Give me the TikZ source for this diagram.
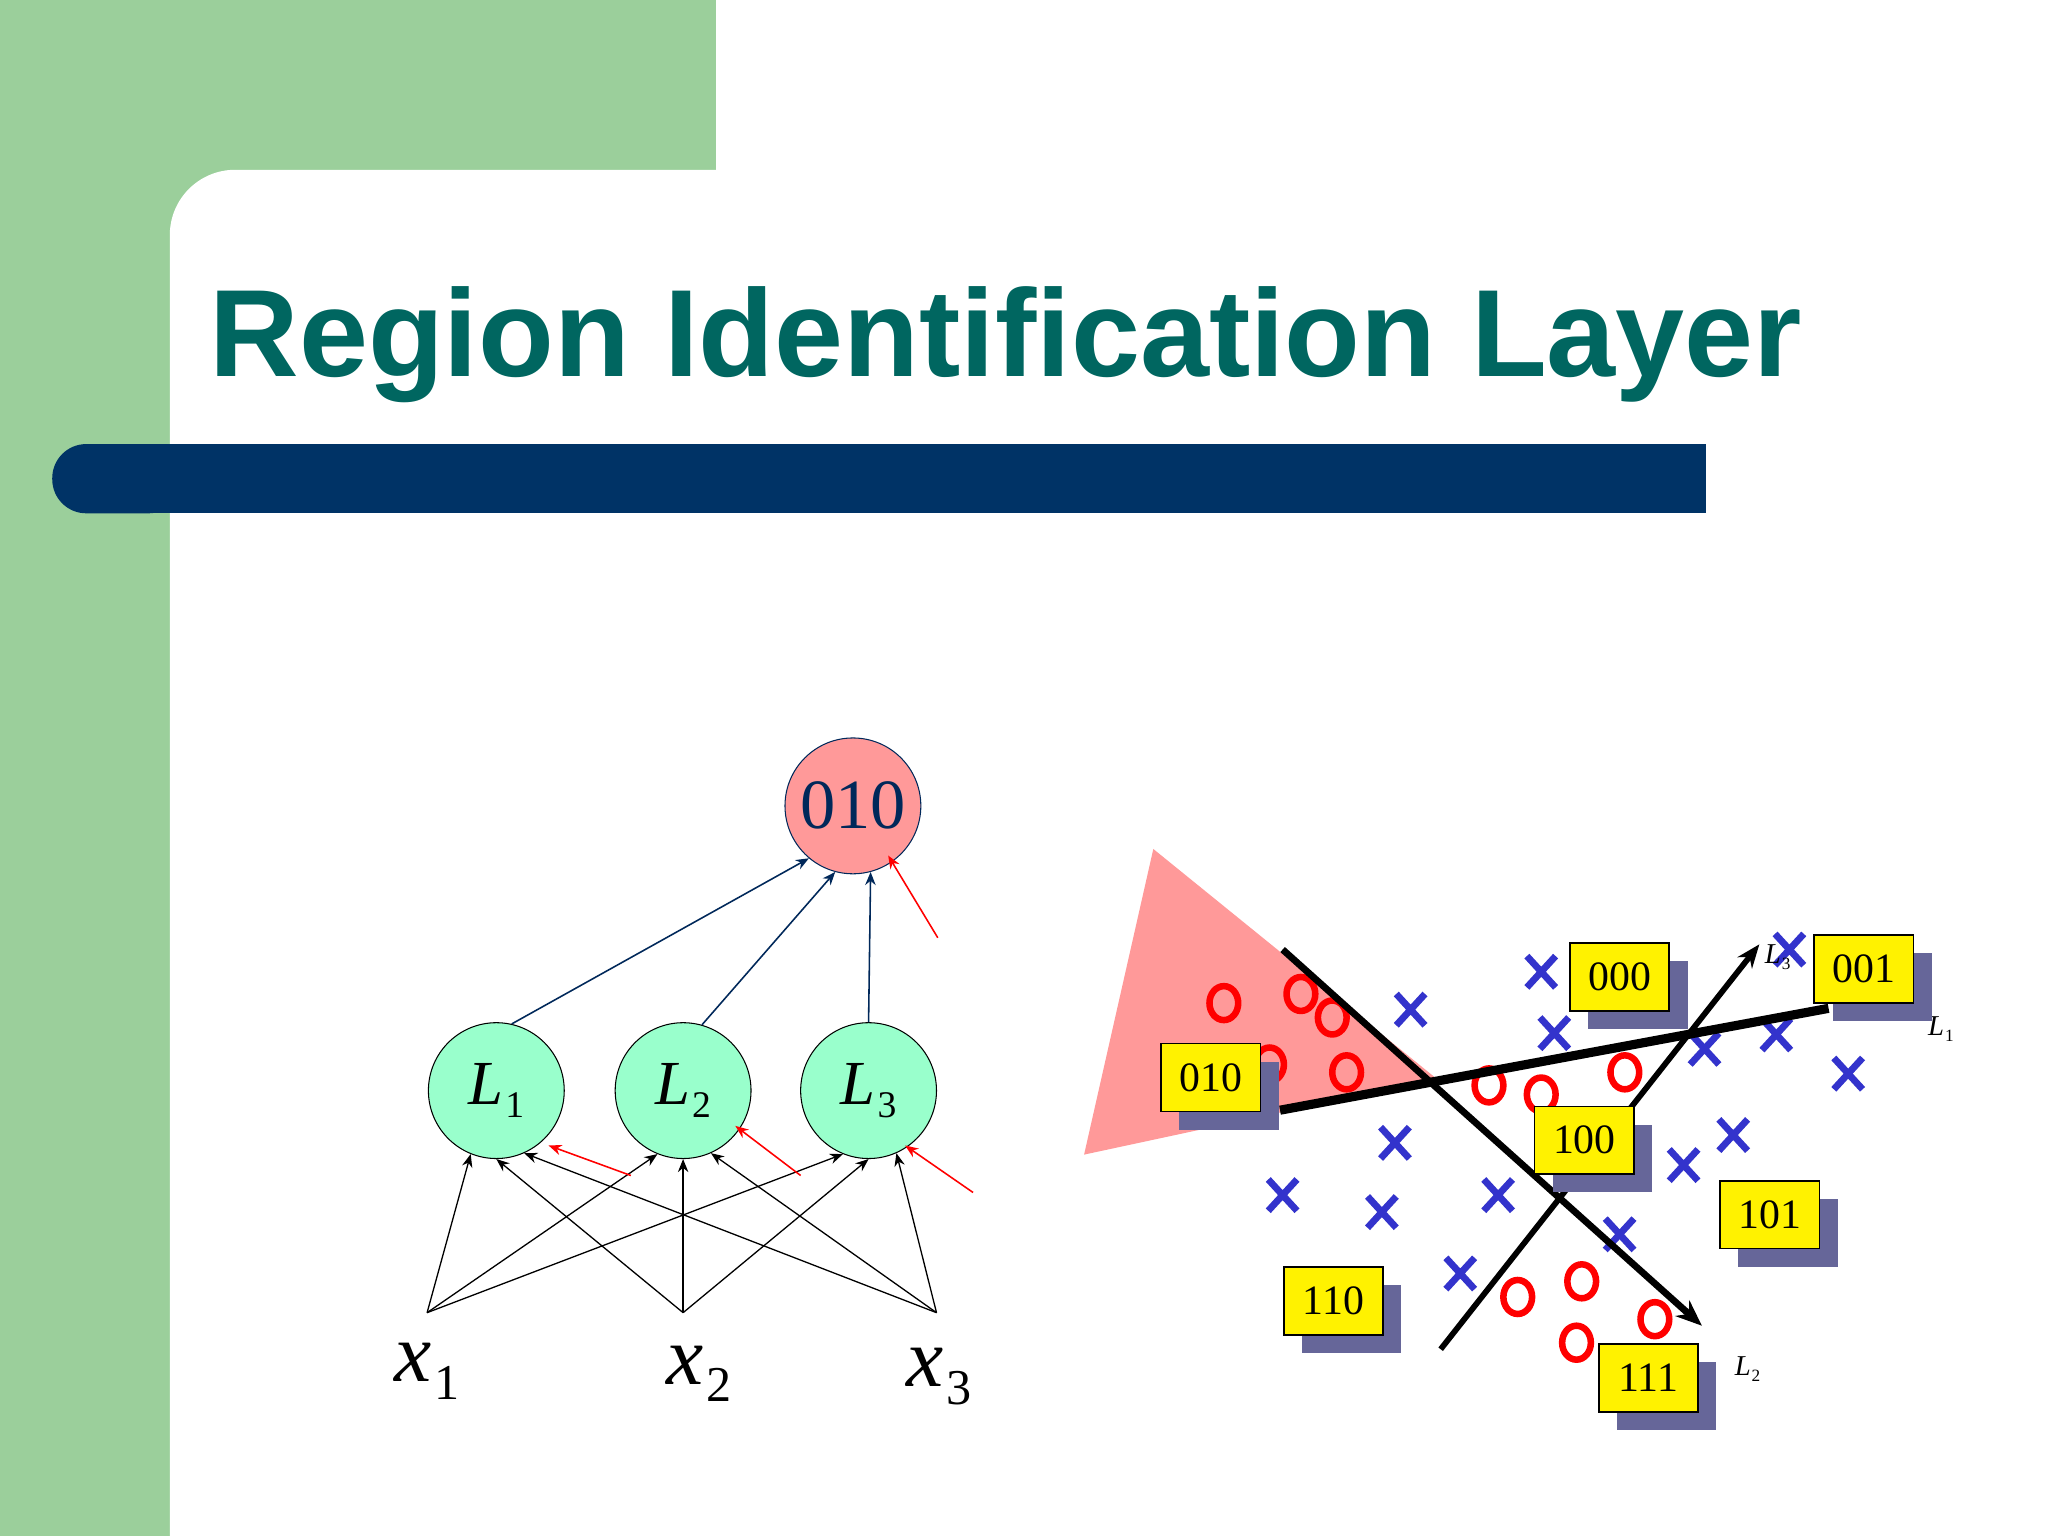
\documentclass[tikz,border=0pt]{standalone}
\usepackage{fontspec}
\setmainfont{Liberation Serif}
\newfontfamily\titlefont{Liberation Sans}
\usetikzlibrary{arrows.meta}
\definecolor{bggreen}{RGB}{155,207,155}
\definecolor{barblue}{RGB}{0,51,102}
\definecolor{titleteal}{RGB}{0,102,96}
\definecolor{pinkfill}{RGB}{255,153,153}
\definecolor{mintfill}{RGB}{153,255,204}
\definecolor{navy}{RGB}{0,40,90}
\definecolor{shadowc}{RGB}{102,102,153}
\definecolor{xblue}{RGB}{51,51,204}
\newcommand{\isub}[2]{\textit{#1}\kern0.03em\raisebox{-0.45ex}{\fontsize{0.6\dimexpr\fontdimen6\font}{1}\selectfont #2}}
\begin{document}
\begin{tikzpicture}[x=0.5pt,y=-0.5pt,
  neuron/.style={circle,draw=black,fill=mintfill,minimum size=52pt,inner sep=0pt,font=\fontsize{24}{24}\selectfont},
  outn/.style={circle,draw=navy,fill=pinkfill,minimum size=52pt,inner sep=0pt,text=navy,font=\fontsize{27}{27}\selectfont},
  inarrow/.style={-{Stealth[length=5pt,width=4pt]},black,line width=0.5pt},
  uparrow/.style={-{Stealth[length=5pt,width=4pt]},navy,line width=0.6pt},
  redarrow/.style={-{Stealth[length=5pt,width=4pt]},red,line width=0.6pt},
  region/.style={draw=black,fill=yellow,minimum width=38pt,minimum height=26pt,inner sep=0pt,line width=0.6pt,font=\fontsize{16}{16}\selectfont},
  ring/.style={draw=red,line width=2.5pt},
  crossm/.style={draw=xblue,line width=2.6pt},
  bigline/.style={line width=2.6pt},
  small/.style={font=\fontsize{11}{11}\selectfont},
  inlabel/.style={font=\fontsize{32}{32}\selectfont,inner sep=1pt}
]
\useasboundingbox (0,0) rectangle (1568,1176);
\fill[bggreen] (0,0) rectangle (548,130);
\fill[bggreen] (0,0) rectangle (200,200);
\fill[bggreen] (0,0) rectangle (130,1176);
\fill[white,rounded corners=25pt] (130,130) rectangle (1600,1240);
\fill[barblue,rounded corners=13pt] (40,340) rectangle (140,393);
\fill[barblue] (100,340) rectangle (1306,393);
\node[anchor=base west,inner sep=0pt,text=titleteal,font=\titlefont\bfseries\fontsize{47.5}{47.5}\selectfont] (title) at (160,288) {Region Identification Layer};
% network
\node[outn] (o) at (653,617) {010};
\node[neuron] (l1) at (380,835) {\isub{L}{1}};
\node[neuron] (l2) at (523,835) {\isub{L}{2}};
\node[neuron] (l3) at (665,835) {\isub{L}{3}};
\coordinate (i1) at (327,1005);
\coordinate (i2) at (523,1005);
\coordinate (i3) at (717,1005);
\node[inlabel] (x1) at (327,1050) {\isub{x}{1}};
\node[inlabel] (x2) at (535,1052) {\isub{x}{2}};
\node[inlabel] (x3) at (719,1054) {\isub{x}{3}};
\foreach \l in {l1,l2,l3}{
  \draw[inarrow] (i1) -- (\l.-112);
  \draw[inarrow] (i2) -- (\l.-90);
  \draw[inarrow] (i3) -- (\l.-66);
}
\draw[uparrow] (l1.77) -- (o.-130);
\draw[uparrow] (l2.74) -- (o.-105);
\draw[uparrow] (l3.north) -- (o.-75);
\coordinate (r1) at (483,900);
\coordinate (r2) at (613,900);
\coordinate (r3) at (745,913);
\coordinate (r4) at (718,718);
\draw[redarrow] (r1) -- (420,877);
\draw[redarrow] (r2) -- (563,862);
\draw[redarrow] (r3) -- (693,877);
\draw[redarrow] (r4) -- (680,655);
% right diagram
\fill[pinkfill] (883,650) -- (830,884) -- (1100,826) -- cycle;
\foreach \p in {(937,768),(996,761),(1020,779),(972,815),(1031,821),(1140,831),(1180,838),(1244,821),(1162,993),(1211,981),(1267,1010),(1207,1028)}
  \draw[ring] \p ellipse (5.5pt and 6.5pt);
\foreach \a/\b in {1180/744,1080/773,1190/791,1370/727,1305/803,1360/792,1415/822,1068/875,982/915,1058/928,1147/915,1327/869,1289/892,1240/945,1118/975}
  \draw[crossm] (\a-11,\b-12) -- (\a+11,\b+12) (\a-11,\b+12) -- (\a+11,\b-12);
\coordinate (a2s) at (982,727);
\coordinate (a2e) at (1303,1015);
\coordinate (a1s) at (980,850);
\coordinate (a1e) at (1400,772);
\coordinate (a3s) at (1103,1033);
\coordinate (a3e) at (1347,723);
\draw[bigline,-{Stealth[length=10pt,width=8pt]}] (a2s) -- (a2e);
\draw[line width=3.5pt] (a1s) -- (a1e);
\draw[line width=2.2pt,-{Stealth[length=9pt,width=7pt]}] (a3s) -- (a3e);
\node[small] (lb3) at (1361,733) {\isub{L}{3}};
\node[small] (lb1) at (1486,788) {\isub{L}{1}};
\node[small] (lb2) at (1338,1048) {\isub{L}{2}};
\foreach \n/\a/\b in {000/1240/748,001/1427/742,010/927/825,100/1213/873,101/1355/930,110/1021/996,111/1262/1055}{
  \fill[shadowc] (\a-38+14,\b-26+14) rectangle (\a+38+14,\b+26+14);
  \node[region] (b\n) at (\a,\b) {\n};
}
\end{tikzpicture}
\end{document}
